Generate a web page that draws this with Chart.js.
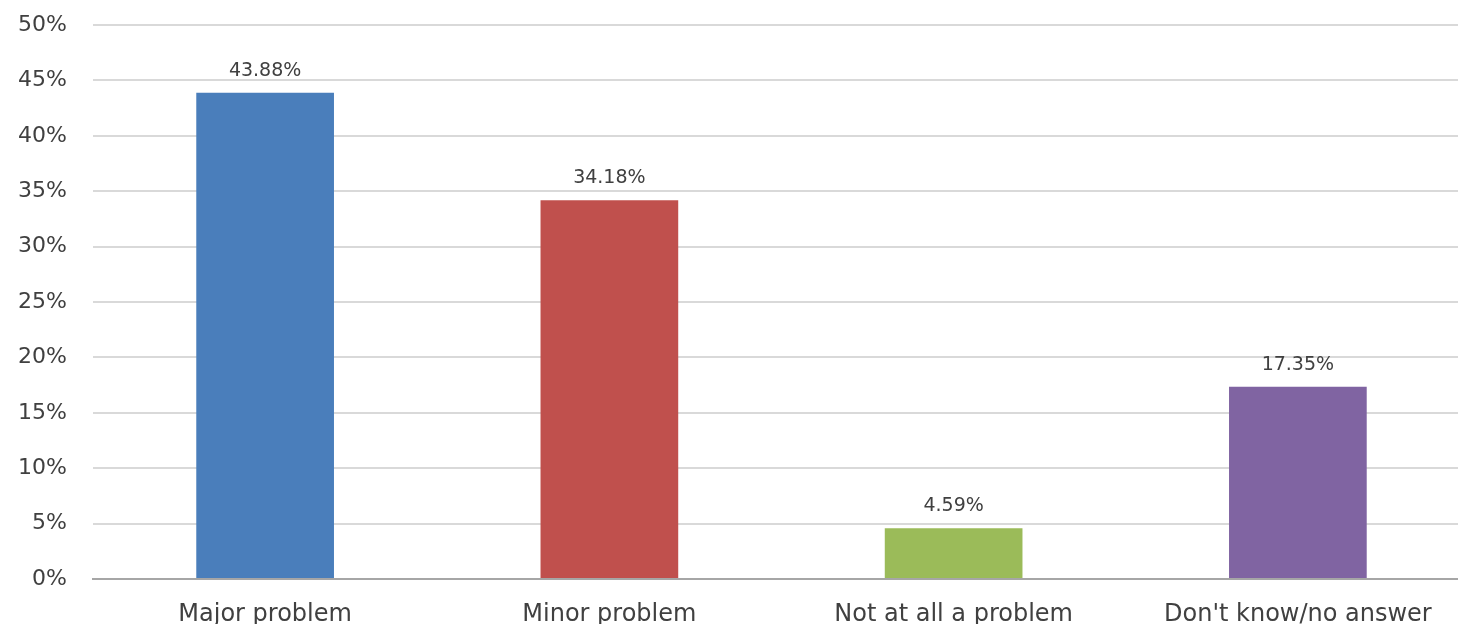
<!DOCTYPE html>
<html>
<head>
<meta charset="utf-8">
<style>
  html, body { margin: 0; padding: 0; background: #fff; overflow: hidden; }
  #wrap { width: 1458px; height: 624px; overflow: hidden; position: relative; }
  canvas { display: block; }
</style>
<script src="https://cdn.jsdelivr.net/npm/chart.js@4"></script>
</head>
<body>
<div id="wrap"><canvas id="chart" width="1470" height="624"></canvas></div>
<script>
// Data
const categories = ['Major problem', 'Minor problem', 'Not at all a problem', "Don't know/no answer"];
const shares = [43.88, 34.18, 4.59, 17.35];
const barColors = ['#4a7ebb', '#c0504d', '#9bbb59', '#8064a2'];
const yTicks = [0, 5, 10, 15, 20, 25, 30, 35, 40, 45, 50];

const FONT = '"DejaVu Sans", Verdana, sans-serif';
const TEXT = '#404040';

// value labels above each bar
const barLabels = {
  id: 'barLabels',
  afterDatasetsDraw(chart) {
    const ctx = chart.ctx;
    const meta = chart.getDatasetMeta(0);
    ctx.save();
    ctx.font = '19px ' + FONT;
    ctx.fillStyle = TEXT;
    ctx.textAlign = 'center';
    ctx.textBaseline = 'middle';
    meta.data.forEach((bar, i) => {
      ctx.fillText(shares[i].toFixed(2) + '%', bar.x, bar.y - 22);
    });
    ctx.restore();
  }
};

new Chart(document.getElementById('chart'), {
  type: 'bar',
  data: {
    labels: categories,
    datasets: [{
      data: shares,
      backgroundColor: barColors,
      borderWidth: 0,
      barPercentage: 0.4,
      categoryPercentage: 1,
    }],
  },
  options: {
    responsive: false,
    animation: false,
    layout: { padding: { top: 25, right: 0, left: 0, bottom: 0 } },
    plugins: { legend: { display: false }, tooltip: { enabled: false } },
    scales: {
      x: {
        grid: { display: false, drawTicks: false },
        border: { display: true, color: '#a6a6a6', width: 2 },
        ticks: {
          color: TEXT,
          font: { family: FONT, size: 24 },
          padding: 21,
          maxRotation: 0,
          autoSkip: false,
        },
        afterFit(scale) {
          scale.height = 45;
          scale.paddingLeft = 0;
          scale.paddingRight = 0;
        },
      },
      y: {
        min: 0,
        max: 50,
        afterBuildTicks(scale) { scale.ticks = yTicks.map(v => ({ value: v })); },
        grid: { color: '#d9d9d9', lineWidth: 2, drawTicks: false },
        border: { display: false },
        ticks: {
          color: TEXT,
          font: { family: FONT, size: 22 },
          padding: 26,
          callback: (v) => v + '%',
        },
        afterFit(scale) {
          scale.width = 93;
          scale.paddingTop = 0;
          scale.paddingBottom = 0;
        },
      },
    },
  },
  plugins: [barLabels],
});
</script>
</body>
</html>
